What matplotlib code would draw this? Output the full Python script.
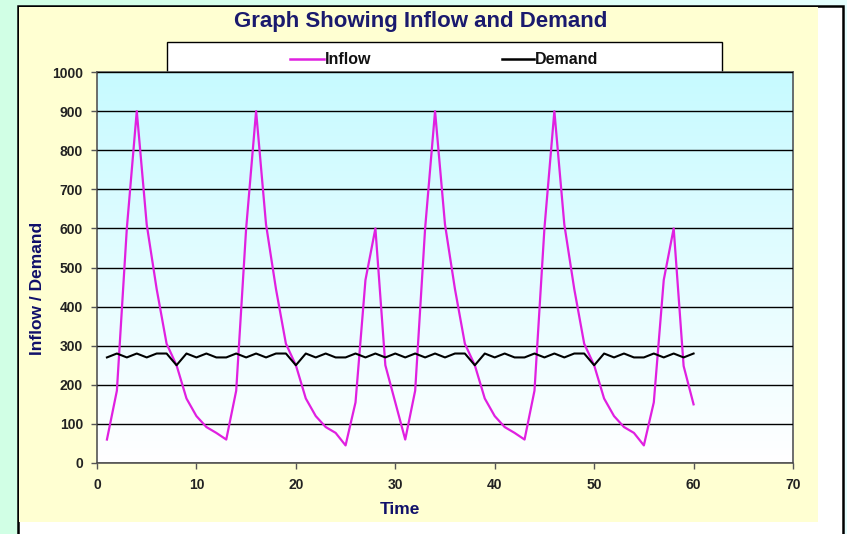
import numpy as np
import matplotlib
matplotlib.use("Agg")
import matplotlib.pyplot as plt
from matplotlib.patches import Rectangle
from matplotlib.lines import Line2D

time = list(range(1, 61))
inflow = [60, 185, 600, 900, 610, 445, 305, 250, 165, 120, 92, 77, 60,
          185, 600, 900, 610, 445, 305, 250, 165, 120, 92, 77, 45,
          155, 468, 600, 250, 155, 60,
          185, 600, 900, 610, 445, 305, 250, 165, 120, 92, 77, 60,
          185, 600, 900, 610, 445, 305, 250, 165, 120, 92, 77, 45,
          155, 468, 600, 248, 150]
demand = [270, 280, 270, 280, 270, 280, 280, 250, 280, 270, 280, 270,
          270, 280, 270, 280, 270, 280, 280, 250, 280, 270, 280, 270,
          270, 280, 270, 280, 270, 280, 270, 280, 270, 280, 270, 280, 280, 250,
          280, 270, 280, 270, 270, 280, 270, 280, 270, 280, 280, 250,
          280, 270, 280, 270, 270, 280, 270, 280, 270, 280]
xticks = [0, 10, 20, 30, 40, 50, 60, 70]
yticks = [0, 100, 200, 300, 400, 500, 600, 700, 800, 900, 1000]

plt.rcParams['font.family'] = ['Liberation Sans', 'DejaVu Sans']

W, H = 847, 534
fig = plt.figure(figsize=(W / 100, H / 100), dpi=100)

# outer mint gradient background
bg = fig.add_axes([0, 0, 1, 1], zorder=-10)
g = np.linspace(0, 1, 256)
grad = np.zeros((2, 256, 3))
c1 = np.array([0.82, 1.0, 0.90])
c2 = np.array([0.90, 1.0, 1.0])
grad[:, :, :] = c1 + (c2 - c1) * g[None, :, None]
bg.imshow(grad, aspect='auto', extent=[0, 1, 0, 1])
bg.set_xlim(0, 1); bg.set_ylim(0, 1)
bg.axis('off')

def fx(px):
    return px / W

def fy(py):
    return 1 - py / H

# white chart box with black border
bg.add_patch(Rectangle((fx(18), fy(540)), fx(843) - fx(18), fy(6) - fy(540),
                       facecolor='white', edgecolor='black', lw=1.8, zorder=1))
# yellow panel
bg.add_patch(Rectangle((fx(19), fy(522)), fx(818) - fx(19), fy(7) - fy(522),
                       facecolor='#FFFFD2', edgecolor='none', zorder=2))

# plot area
x0, x1, y0, y1 = 97, 793, 72, 463
ax = fig.add_axes([fx(x0), fy(y1), fx(x1) - fx(x0), fy(y0) - fy(y1)], zorder=1)
ax.patch.set_alpha(0)
pg = np.linspace(0, 1, 256)[:, None]
top = np.array([0.78, 0.98, 1.0])
bot = np.array([1.0, 1.0, 1.0])
img = top[None, None, :] * (1 - pg[:, :, None]) + bot[None, None, :] * pg[:, :, None]
img = np.repeat(img, 2, axis=1)
ax.imshow(img, aspect='auto', extent=[0, 1, 0, 1], transform=ax.transAxes, zorder=0)

ax.set_xlim(0, 70)
ax.set_ylim(0, 1000)
ax.set_xticks(xticks)
ax.set_yticks(yticks)
ax.grid(axis='y', color='black', lw=1.0, zorder=1)
ax.set_axisbelow(False)
for s in ax.spines.values():
    s.set_color('#555555')
    s.set_linewidth(1.2)

ax.plot(time, inflow, color='#E020E0', lw=1.6, zorder=3)
ax.plot(time, demand, color='black', lw=1.5, zorder=4)

ax.tick_params(axis='both', length=4, width=1, color='#555555',
               labelsize=10, labelcolor='#222222')
for lab in ax.get_xticklabels() + ax.get_yticklabels():
    lab.set_fontweight('bold')
ax.tick_params(axis='x', pad=7)
ax.tick_params(axis='y', pad=6)

fig.text(fx(400), fy(509), 'Time', ha='center', va='center',
         fontsize=12.5, fontweight='bold', color='#10106A')
fig.text(fx(38), fy(288), 'Inflow / Demand', ha='center', va='center', rotation=90,
         fontsize=12.5, fontweight='bold', color='#10106A')

fig.text(fx(421), fy(22), 'Graph Showing Inflow and Demand', ha='center', va='center',
         fontsize=16, fontweight='bold', color='#1A1A6E')

# legend box
bg.add_patch(Rectangle((fx(167), fy(72)), fx(722) - fx(167), fy(42) - fy(72),
                       facecolor='white', edgecolor='black', lw=1.0, zorder=3))
ly = fy(59)
bg.add_line(Line2D([fx(290), fx(324)], [ly, ly], color='#E020E0', lw=1.8, zorder=4))
bg.text(fx(325), ly, 'Inflow', ha='left', va='center', fontsize=11.5, fontweight='bold',
        color='#111111', zorder=4)
bg.add_line(Line2D([fx(502), fx(534)], [ly, ly], color='black', lw=1.8, zorder=4))
bg.text(fx(535), ly, 'Demand', ha='left', va='center', fontsize=11.5, fontweight='bold',
        color='#111111', zorder=4)

fig.savefig('out.png', dpi=100)
